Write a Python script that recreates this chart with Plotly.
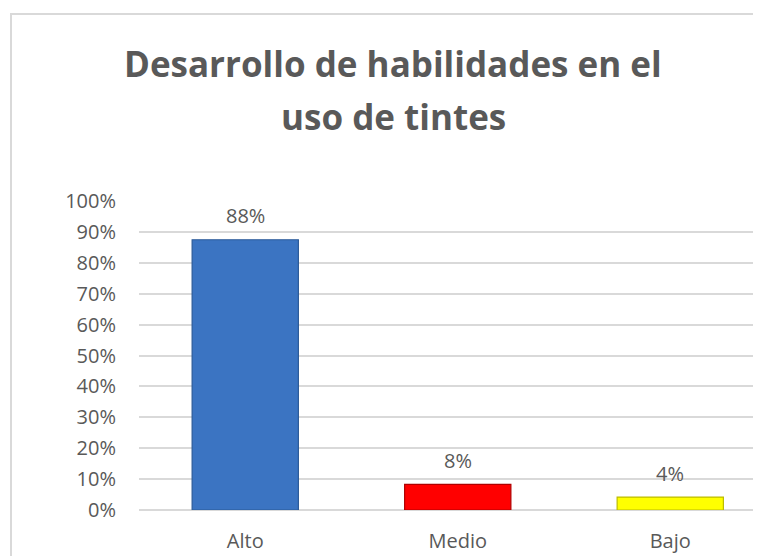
import plotly.graph_objects as go

# Data
categorias = ['Alto', 'Medio', 'Bajo']
porcentajes = [0.875, 0.083, 0.042]
colores = ['#3b74c2', '#ff0000', '#ffff00']
bordes = ['#2b5a98', '#b00000', '#bcbc00']

titulo_1 = 'Desarrollo de habilidades en el'
titulo_2 = 'uso de tintes'

# the page body has an 8px margin, so the figure is shifted by 8px
OFF = 8
W, H = 761 - OFF, 556 - OFF
# plot area in page pixels: x 139..761, y 201..510
L, R, T, B = 139 - OFF, 0, 201 - OFF, H - (510 - OFF)
pw, ph = W - L - R, H - T - B

def px_x(x):
    return (x - OFF - L) / pw

def px_y(y):
    return (H - B - (y - OFF)) / ph

gris = '#595959'
fuente = 'Open Sans, Liberation Sans, sans-serif'

fig = go.Figure()
fig.add_trace(go.Bar(
    x=categorias, y=porcentajes,
    width=0.5,
    marker=dict(color=colores, line=dict(color=bordes, width=1.2)),
    hoverinfo='x+y',
))

# data labels above each bar
for c, v in zip(categorias, porcentajes):
    fig.add_annotation(x=c, y=v, text=f'{v:.0%}', showarrow=False,
                       yanchor='middle', yshift=24,
                       font=dict(family=fuente, size=20, color=gris))

# title, two lines
fig.add_annotation(xref='paper', yref='paper', x=px_x(393), y=px_y(63),
                   text=f'<b>{titulo_1}</b>', showarrow=False,
                   xanchor='center', yanchor='middle',
                   font=dict(family=fuente, size=35, color=gris))
fig.add_annotation(xref='paper', yref='paper', x=px_x(393), y=px_y(116),
                   text=f'<b>{titulo_2}</b>', showarrow=False,
                   xanchor='center', yanchor='middle',
                   font=dict(family=fuente, size=35, color=gris))

# chart border (cropped on the right and bottom)
fig.add_shape(type='rect', xref='paper', yref='paper',
              x0=px_x(11), x1=px_x(820), y0=px_y(14), y1=px_y(620),
              line=dict(color='#d9d9d9', width=2), layer='below')

fig.update_layout(
    width=W, height=H,
    margin=dict(l=L, r=R, t=T, b=B),
    paper_bgcolor='white', plot_bgcolor='white',
    showlegend=False,
    bargap=0.5,
)
fig.update_xaxes(range=[-0.5, 2.427], showgrid=False, showline=False,
                 tickfont=dict(family=fuente, size=20, color=gris),
                 ticklabelstandoff=17)
fig.update_yaxes(range=[0, 1.0005], dtick=0.1, tickformat='.0%',
                 showgrid=True, gridcolor='#d9d9d9', gridwidth=1.5,
                 zeroline=True, zerolinecolor='#d9d9d9', zerolinewidth=1.5,
                 tickfont=dict(family=fuente, size=20, color=gris),
                 ticklabelstandoff=22)

fig.write_html('out.html')
